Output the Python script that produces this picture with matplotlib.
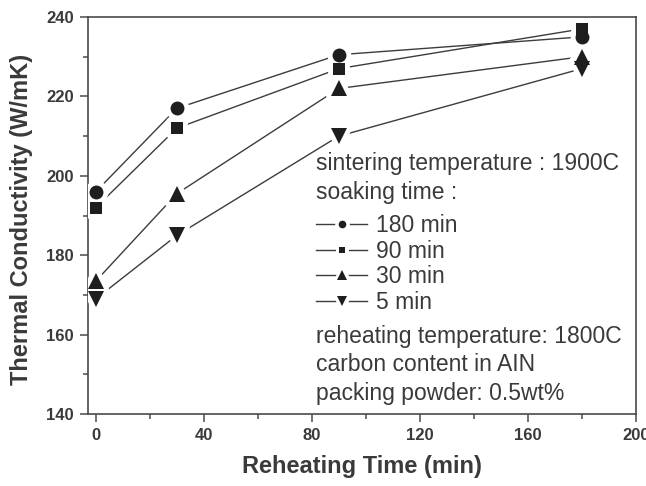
import numpy as np
import matplotlib.pyplot as plt
from matplotlib.lines import Line2D
from matplotlib.legend_handler import HandlerTuple
from matplotlib.markers import MarkerStyle
from matplotlib.ticker import MultipleLocator

plt.rcParams['font.family'] = ['Liberation Sans', 'DejaVu Sans']

# dane
reheat_time = [0, 30, 90, 180]
soak_labels = ['180 min', '90 min', '30 min', '5 min']
k_180 = [196, 217, 230.5, 235]
k_90 = [192, 212, 227, 237]
k_30 = [173.5, 195.5, 222, 230]
k_5 = [169, 185, 210, 227]

x_ticks = [0, 40, 80, 120, 160, 200]
y_ticks = [140, 160, 180, 200, 220, 240]

header = ['sintering temperature : 1900C', 'soaking time :']
footer = ['reheating temperature: 1800C', 'carbon content in AIN', 'packing powder: 0.5wt%']

series = [k_180, k_90, k_30, k_5]
markers = ['o', 's', '^', 'v']
sizes = [10, 9, 11, 11]
leg_sizes = [5.5, 5, 7, 7]

txt_col = '#3a3a3a'
line_col = '#3c3c3c'
mark_col = '#1e1e1e'
axis_col = '#4a4a4a'

fig = plt.figure(figsize=(6.46, 4.86), dpi=100)
ax = fig.add_axes([0.1358, 0.148, 0.8484, 0.817])

# linie, potem biale "halo" (przerwa przy markerach), potem markery
for vals in series:
    ax.plot(reheat_time, vals, '-', color=line_col, lw=1.0, zorder=2)
for vals, m, s in zip(series, markers, sizes):
    ax.plot(reheat_time, vals, ls='none', marker=MarkerStyle(m, joinstyle='round'),
            ms=s, mfc='white', mec='white', mew=7, zorder=3)
for vals, m, s in zip(series, markers, sizes):
    ax.plot(reheat_time, vals, ls='none', marker=m, ms=s,
            mfc=mark_col, mec=mark_col, mew=0, zorder=4)

ax.set_xlim(-3, 200)
ax.set_ylim(140, 240)
ax.set_xticks(x_ticks)
ax.set_xticklabels([str(t) for t in x_ticks], fontweight='bold', color=txt_col)
ax.set_yticks(y_ticks)
ax.set_yticklabels([str(t) for t in y_ticks], fontweight='bold', color=txt_col)
ax.xaxis.set_minor_locator(MultipleLocator(20))
ax.yaxis.set_minor_locator(MultipleLocator(10))
ax.tick_params(which='major', direction='out', length=6, width=1.1, color=axis_col,
               labelsize=12, pad=4)
ax.tick_params(which='minor', direction='out', length=3.5, width=1.1, color=axis_col)
for sp in ax.spines.values():
    sp.set_color(axis_col)
    sp.set_linewidth(1.2)

ax.set_xlabel('Reheating Time (min)', fontsize=17, fontweight='bold', color=txt_col, labelpad=9)
ax.set_ylabel('Thermal Conductivity (W/mK)', fontsize=17, fontweight='bold', color=txt_col)
ax.yaxis.set_label_coords(-0.10, 0.491)

# opis warunkow
fs = 16.5
tx = 0.4166
for i, line in enumerate(header):
    ax.text(tx, 0.630 - i * 0.072, line, transform=ax.transAxes, fontsize=fs,
            color=txt_col, va='center', ha='left')
for i, line in enumerate(footer):
    ax.text(tx, 0.196 - i * 0.0715, line, transform=ax.transAxes, fontsize=fs,
            color=txt_col, va='center', ha='left')

handles = []
for m, s in zip(markers, leg_sizes):
    h_line = Line2D([], [], color=line_col, lw=1.0)
    h_halo = Line2D([], [], ls='none', marker=m, ms=s, mfc='white', mec='white', mew=5)
    h_mark = Line2D([], [], ls='none', marker=m, ms=s, mfc=mark_col, mec=mark_col, mew=0)
    handles.append((h_line, h_halo, h_mark))

leg = ax.legend(handles, soak_labels, handler_map={tuple: HandlerTuple(ndivide=1, pad=0)},
                loc='center left', bbox_to_anchor=(tx, 0.378), frameon=False,
                fontsize=fs, numpoints=1, handlelength=2.23, handletextpad=0.39,
                labelspacing=0.12, borderpad=0, borderaxespad=0)
for t in leg.get_texts():
    t.set_color(txt_col)

plt.savefig('out.png', dpi=100)
